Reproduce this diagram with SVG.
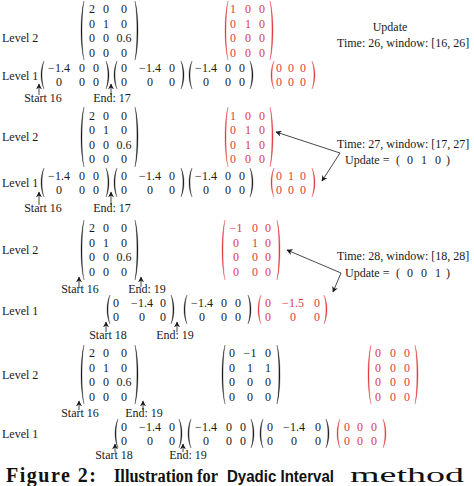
<svg xmlns="http://www.w3.org/2000/svg" width="474" height="486" viewBox="0 0 474 486">
<style>
.t{font-family:"Liberation Serif",serif;font-size:12px;fill:#1a1a1a}
.m{text-anchor:middle}
.r{fill:#e0393e}
.pk{fill:#1a1a1a;stroke:#1a1a1a;stroke-width:.3}
.pr{fill:#e0393e;stroke:#e0393e;stroke-width:.3}
.ar{stroke:#1a1a1a;stroke-width:.8;fill:none;marker-end:url(#ah)}
.cap{font-family:"Liberation Serif",serif;font-size:20px;font-weight:bold;fill:#111}
.caps{font-family:"Liberation Sans",sans-serif;font-weight:bold;font-size:17px}
</style>
<defs>
<marker id="ah" viewBox="0 0 10 10" refX="9" refY="5" markerWidth="6" markerHeight="6" markerUnits="userSpaceOnUse" orient="auto"><path d="M0,0 L10,5 L0,10 L3,5 z" fill="#1a1a1a"/></marker>
</defs>
<rect width="474" height="486" fill="#fff"/>

<!-- Section 1 -->
<g id="s1-labels" class="t">
<text x="2" y="42">Level 2</text>
<text x="2" y="80">Level 1</text>
<text class="m" x="43" y="102">Start 16</text>
<text class="m" x="112" y="102">End: 17</text>
<text class="m" x="390" y="31">Update</text>
<text x="337" y="47">Time: 26, window: [16, 26]</text>
</g>
<g id="s1-l2-black">
<path class="pk" d="M84,1 C80,15 80,46 84,60 C81.4,46 81.4,15 84,1Z"/>
<path class="pk" d="M135,1 C139,15 139,46 135,60 C137.6,46 137.6,15 135,1Z"/>
<g class="t m">
<text y="13"><tspan x="92">2</tspan><tspan x="106">0</tspan><tspan x="124">0</tspan></text>
<text y="27.5"><tspan x="92">0</tspan><tspan x="106">1</tspan><tspan x="124">0</tspan></text>
<text y="42"><tspan x="92">0</tspan><tspan x="106">0</tspan><tspan x="124">0.6</tspan></text>
<text y="56.5"><tspan x="92">0</tspan><tspan x="106">0</tspan><tspan x="124">0</tspan></text>
</g>
</g>
<g id="s1-l2-red">
<path class="pr" d="M228,1 C224,15 224,46 228,60 C225.4,46 225.4,15 228,1Z"/>
<path class="pr" d="M270,1 C274,15 274,46 270,60 C272.6,46 272.6,15 270,1Z"/>
<g class="t m r">
<text y="13"><tspan x="233">1</tspan><tspan x="248">0</tspan><tspan x="262">0</tspan></text>
<text y="27.5"><tspan x="233">0</tspan><tspan x="248">1</tspan><tspan x="262">0</tspan></text>
<text y="42"><tspan x="233">0</tspan><tspan x="248">0</tspan><tspan x="262">0</tspan></text>
<text y="56.5"><tspan x="233">0</tspan><tspan x="248">0</tspan><tspan x="262">0</tspan></text>
</g>
</g>
<g id="s1-l1-m1">
<path class="pk" d="M44,61 C40,69 40,81 44,89 C41.4,81 41.4,69 44,61Z"/>
<path class="pk" d="M106,61 C110,69 110,81 106,89 C108.6,81 108.6,69 106,61Z"/>
<g class="t m">
<text y="72"><tspan x="59">−1.4</tspan><tspan x="82">0</tspan><tspan x="96">0</tspan></text>
<text y="86"><tspan x="59">0</tspan><tspan x="82">0</tspan><tspan x="96">0</tspan></text>
</g>
</g>
<g id="s1-l1-m2">
<path class="pk" d="M117,61 C113,69 113,81 117,89 C114.4,81 114.4,69 117,61Z"/>
<path class="pk" d="M181,61 C185,69 185,81 181,89 C183.6,81 183.6,69 181,61Z"/>
<g class="t m">
<text y="72"><tspan x="124">0</tspan><tspan x="150">−1.4</tspan><tspan x="172">0</tspan></text>
<text y="86"><tspan x="124">0</tspan><tspan x="150">0</tspan><tspan x="172">0</tspan></text>
</g>
</g>
<g id="s1-l1-m3">
<path class="pk" d="M192,61 C188,69 188,81 192,89 C189.4,81 189.4,69 192,61Z"/>
<path class="pk" d="M250,61 C254,69 254,81 250,89 C252.6,81 252.6,69 250,61Z"/>
<g class="t m">
<text y="72"><tspan x="206">−1.4</tspan><tspan x="228">0</tspan><tspan x="242">0</tspan></text>
<text y="86"><tspan x="206">0</tspan><tspan x="228">0</tspan><tspan x="242">0</tspan></text>
</g>
</g>
<g id="s1-l1-red">
<path class="pr" d="M274,61 C270,69 270,81 274,89 C271.4,81 271.4,69 274,61Z"/>
<path class="pr" d="M312,61 C316,69 316,81 312,89 C314.6,81 314.6,69 312,61Z"/>
<g class="t m r">
<text y="72"><tspan x="279">0</tspan><tspan x="291">0</tspan><tspan x="303">0</tspan></text>
<text y="86"><tspan x="279">0</tspan><tspan x="291">0</tspan><tspan x="303">0</tspan></text>
</g>
</g>

<!-- Section 2 -->
<g id="s2-labels" class="t">
<text x="2" y="141">Level 2</text>
<text x="2" y="187">Level 1</text>
<text class="m" x="43" y="212">Start 16</text>
<text class="m" x="112" y="212">End: 17</text>
<text x="337" y="148">Time: 27, window: [17, 27]</text>
<text y="164"><tspan x="345">Update =</tspan><tspan x="396">(</tspan><tspan x="407">0</tspan><tspan x="421">1</tspan><tspan x="435">0</tspan><tspan x="446">)</tspan></text>
</g>
<g id="s2-l2-black">
<path class="pk" d="M84,107 C80,121 80,153 84,167 C81.4,153 81.4,121 84,107Z"/>
<path class="pk" d="M135,107 C139,121 139,153 135,167 C137.6,153 137.6,121 135,107Z"/>
<g class="t m">
<text y="119.5"><tspan x="92">2</tspan><tspan x="106">0</tspan><tspan x="124">0</tspan></text>
<text y="134"><tspan x="92">0</tspan><tspan x="106">1</tspan><tspan x="124">0</tspan></text>
<text y="148.5"><tspan x="92">0</tspan><tspan x="106">0</tspan><tspan x="124">0.6</tspan></text>
<text y="163"><tspan x="92">0</tspan><tspan x="106">0</tspan><tspan x="124">0</tspan></text>
</g>
</g>
<g id="s2-l2-red">
<path class="pr" d="M228,107 C224,121 224,153 228,167 C225.4,153 225.4,121 228,107Z"/>
<path class="pr" d="M270,107 C274,121 274,153 270,167 C272.6,153 272.6,121 270,107Z"/>
<g class="t m r">
<text y="119.5"><tspan x="233">1</tspan><tspan x="248">0</tspan><tspan x="262">0</tspan></text>
<text y="134"><tspan x="233">0</tspan><tspan x="248">1</tspan><tspan x="262">0</tspan></text>
<text y="148.5"><tspan x="233">0</tspan><tspan x="248">1</tspan><tspan x="262">0</tspan></text>
<text y="163"><tspan x="233">0</tspan><tspan x="248">0</tspan><tspan x="262">0</tspan></text>
</g>
</g>
<g id="s2-l1-m1">
<path class="pk" d="M44,168 C40,176 40,189 44,197 C41.4,189 41.4,176 44,168Z"/>
<path class="pk" d="M106,168 C110,176 110,189 106,197 C108.6,189 108.6,176 106,168Z"/>
<g class="t m">
<text y="180"><tspan x="59">−1.4</tspan><tspan x="82">0</tspan><tspan x="96">0</tspan></text>
<text y="193.5"><tspan x="59">0</tspan><tspan x="82">0</tspan><tspan x="96">0</tspan></text>
</g>
</g>
<g id="s2-l1-m2">
<path class="pk" d="M117,168 C113,176 113,189 117,197 C114.4,189 114.4,176 117,168Z"/>
<path class="pk" d="M181,168 C185,176 185,189 181,197 C183.6,189 183.6,176 181,168Z"/>
<g class="t m">
<text y="180"><tspan x="124">0</tspan><tspan x="150">−1.4</tspan><tspan x="172">0</tspan></text>
<text y="193.5"><tspan x="124">0</tspan><tspan x="150">0</tspan><tspan x="172">0</tspan></text>
</g>
</g>
<g id="s2-l1-m3">
<path class="pk" d="M192,168 C188,176 188,189 192,197 C189.4,189 189.4,176 192,168Z"/>
<path class="pk" d="M250,168 C254,176 254,189 250,197 C252.6,189 252.6,176 250,168Z"/>
<g class="t m">
<text y="180"><tspan x="206">−1.4</tspan><tspan x="228">0</tspan><tspan x="242">0</tspan></text>
<text y="193.5"><tspan x="206">0</tspan><tspan x="228">0</tspan><tspan x="242">0</tspan></text>
</g>
</g>
<g id="s2-l1-red">
<path class="pr" d="M274,168 C270,176 270,189 274,197 C271.4,189 271.4,176 274,168Z"/>
<path class="pr" d="M312,168 C316,176 316,189 312,197 C314.6,189 314.6,176 312,168Z"/>
<g class="t m r">
<text y="180"><tspan x="279">0</tspan><tspan x="291">1</tspan><tspan x="303">0</tspan></text>
<text y="193.5"><tspan x="279">0</tspan><tspan x="291">0</tspan><tspan x="303">0</tspan></text>
</g>
</g>

<!-- Section 3 -->
<g id="s3-labels" class="t">
<text x="2" y="254">Level 2</text>
<text x="2" y="315">Level 1</text>
<text class="m" x="80" y="293">Start 16</text>
<text class="m" x="147" y="293">End: 19</text>
<text class="m" x="108" y="339">Start 18</text>
<text class="m" x="175" y="339">End: 19</text>
<text x="337" y="260">Time: 28, window: [18, 28]</text>
<text y="277"><tspan x="345">Update =</tspan><tspan x="396">(</tspan><tspan x="407">0</tspan><tspan x="421">0</tspan><tspan x="435">1</tspan><tspan x="446">)</tspan></text>
</g>
<g id="s3-l2-black">
<path class="pk" d="M84,220 C80,234 80,266 84,280 C81.4,266 81.4,234 84,220Z"/>
<path class="pk" d="M135,220 C139,234 139,266 135,280 C137.6,266 137.6,234 135,220Z"/>
<g class="t m">
<text y="232"><tspan x="92">2</tspan><tspan x="106">0</tspan><tspan x="124">0</tspan></text>
<text y="246.5"><tspan x="92">0</tspan><tspan x="106">1</tspan><tspan x="124">0</tspan></text>
<text y="261"><tspan x="92">0</tspan><tspan x="106">0</tspan><tspan x="124">0.6</tspan></text>
<text y="275.5"><tspan x="92">0</tspan><tspan x="106">0</tspan><tspan x="124">0</tspan></text>
</g>
</g>
<g id="s3-l2-red">
<path class="pr" d="M225,220 C221,234 221,266 225,280 C222.4,266 222.4,234 225,220Z"/>
<path class="pr" d="M277,220 C281,234 281,266 277,280 C279.6,266 279.6,234 277,220Z"/>
<g class="t m r">
<text y="232"><tspan x="236">−1</tspan><tspan x="255">0</tspan><tspan x="268">0</tspan></text>
<text y="246.5"><tspan x="236">0</tspan><tspan x="255">1</tspan><tspan x="268">0</tspan></text>
<text y="261"><tspan x="236">0</tspan><tspan x="255">0</tspan><tspan x="268">0</tspan></text>
<text y="275.5"><tspan x="236">0</tspan><tspan x="255">0</tspan><tspan x="268">0</tspan></text>
</g>
</g>
<g id="s3-l1-m1">
<path class="pk" d="M110,295 C106,303 106,316 110,324 C107.4,316 107.4,303 110,295Z"/>
<path class="pk" d="M171,295 C175,303 175,316 171,324 C173.6,316 173.6,303 171,295Z"/>
<g class="t m">
<text y="307"><tspan x="116">0</tspan><tspan x="142">−1.4</tspan><tspan x="163">0</tspan></text>
<text y="321"><tspan x="116">0</tspan><tspan x="142">0</tspan><tspan x="163">0</tspan></text>
</g>
</g>
<g id="s3-l1-m2">
<path class="pk" d="M187,295 C183,303 183,316 187,324 C184.4,316 184.4,303 187,295Z"/>
<path class="pk" d="M248,295 C252,303 252,316 248,324 C250.6,316 250.6,303 248,295Z"/>
<g class="t m">
<text y="307"><tspan x="202">−1.4</tspan><tspan x="224">0</tspan><tspan x="238">0</tspan></text>
<text y="321"><tspan x="202">0</tspan><tspan x="224">0</tspan><tspan x="238">0</tspan></text>
</g>
</g>
<g id="s3-l1-red">
<path class="pr" d="M261,295 C257,303 257,316 261,324 C258.4,316 258.4,303 261,295Z"/>
<path class="pr" d="M324,295 C328,303 328,316 324,324 C326.6,316 326.6,303 324,295Z"/>
<g class="t m r">
<text y="307"><tspan x="268">0</tspan><tspan x="293">−1.5</tspan><tspan x="317">0</tspan></text>
<text y="321"><tspan x="268">0</tspan><tspan x="293">0</tspan><tspan x="317">0</tspan></text>
</g>
</g>

<!-- Section 4 -->
<g id="s4-labels" class="t">
<text x="2" y="379">Level 2</text>
<text x="2" y="438">Level 1</text>
<text class="m" x="80" y="417">Start 16</text>
<text class="m" x="144" y="417">End: 19</text>
<text class="m" x="114" y="459">Start 18</text>
<text class="m" x="188" y="459">End: 19</text>
</g>
<g id="s4-l2-black">
<path class="pk" d="M84,345 C80,359 80,390 84,404 C81.4,390 81.4,359 84,345Z"/>
<path class="pk" d="M135,345 C139,359 139,390 135,404 C137.6,390 137.6,359 135,345Z"/>
<g class="t m">
<text y="357"><tspan x="92">2</tspan><tspan x="106">0</tspan><tspan x="124">0</tspan></text>
<text y="371.5"><tspan x="92">0</tspan><tspan x="106">1</tspan><tspan x="124">0</tspan></text>
<text y="386"><tspan x="92">0</tspan><tspan x="106">0</tspan><tspan x="124">0.6</tspan></text>
<text y="400.5"><tspan x="92">0</tspan><tspan x="106">0</tspan><tspan x="124">0</tspan></text>
</g>
</g>
<g id="s4-l2-mid">
<path class="pk" d="M225,345 C221,359 221,390 225,404 C222.4,390 222.4,359 225,345Z"/>
<path class="pk" d="M277,345 C281,359 281,390 277,404 C279.6,390 279.6,359 277,345Z"/>
<g class="t m">
<text y="357"><tspan x="232">0</tspan><tspan x="250">−1</tspan><tspan x="268">0</tspan></text>
<text y="371.5"><tspan x="232">0</tspan><tspan x="250">1</tspan><tspan x="268">1</tspan></text>
<text y="386"><tspan x="232">0</tspan><tspan x="250">0</tspan><tspan x="268">0</tspan></text>
<text y="400.5"><tspan x="232">0</tspan><tspan x="250">0</tspan><tspan x="268">0</tspan></text>
</g>
</g>
<g id="s4-l2-red">
<path class="pr" d="M371,345 C367,359 367,390 371,404 C368.4,390 368.4,359 371,345Z"/>
<path class="pr" d="M415,345 C419,359 419,390 415,404 C417.6,390 417.6,359 415,345Z"/>
<g class="t m r">
<text y="357"><tspan x="378">0</tspan><tspan x="393">0</tspan><tspan x="407">0</tspan></text>
<text y="371.5"><tspan x="378">0</tspan><tspan x="393">0</tspan><tspan x="407">0</tspan></text>
<text y="386"><tspan x="378">0</tspan><tspan x="393">0</tspan><tspan x="407">0</tspan></text>
<text y="400.5"><tspan x="378">0</tspan><tspan x="393">0</tspan><tspan x="407">0</tspan></text>
</g>
</g>
<g id="s4-l1-m1">
<path class="pk" d="M118,419 C114,427 114,440 118,448 C115.4,440 115.4,427 118,419Z"/>
<path class="pk" d="M179,419 C183,427 183,440 179,448 C181.6,440 181.6,427 179,419Z"/>
<g class="t m">
<text y="431"><tspan x="124">0</tspan><tspan x="150">−1.4</tspan><tspan x="172">0</tspan></text>
<text y="445"><tspan x="124">0</tspan><tspan x="150">0</tspan><tspan x="172">0</tspan></text>
</g>
</g>
<g id="s4-l1-m2">
<path class="pk" d="M191,419 C187,427 187,440 191,448 C188.4,440 188.4,427 191,419Z"/>
<path class="pk" d="M251,419 C255,427 255,440 251,448 C253.6,440 253.6,427 251,419Z"/>
<g class="t m">
<text y="431"><tspan x="206">−1.4</tspan><tspan x="229">0</tspan><tspan x="243">0</tspan></text>
<text y="445"><tspan x="206">0</tspan><tspan x="229">0</tspan><tspan x="243">0</tspan></text>
</g>
</g>
<g id="s4-l1-m3">
<path class="pk" d="M263,419 C259,427 259,440 263,448 C260.4,440 260.4,427 263,419Z"/>
<path class="pk" d="M326,419 C330,427 330,440 326,448 C328.6,440 328.6,427 326,419Z"/>
<g class="t m">
<text y="431"><tspan x="270">0</tspan><tspan x="294">−1.4</tspan><tspan x="318">0</tspan></text>
<text y="445"><tspan x="270">0</tspan><tspan x="294">0</tspan><tspan x="318">0</tspan></text>
</g>
</g>
<g id="s4-l1-red">
<path class="pr" d="M340,419 C336,427 336,440 340,448 C337.4,440 337.4,427 340,419Z"/>
<path class="pr" d="M383,419 C387,427 387,440 383,448 C385.6,440 385.6,427 383,419Z"/>
<g class="t m r">
<text y="431"><tspan x="347">0</tspan><tspan x="360">0</tspan><tspan x="374">0</tspan></text>
<text y="445"><tspan x="347">0</tspan><tspan x="360">0</tspan><tspan x="374">0</tspan></text>
</g>
</g>

<g id="connectors">
<line class="ar" x1="39" y1="95" x2="39" y2="84"/>
<line class="ar" x1="111" y1="95" x2="111" y2="84"/>
<line class="ar" x1="39" y1="205" x2="39" y2="192"/>
<line class="ar" x1="111" y1="205" x2="111" y2="192"/>
<line class="ar" x1="79" y1="287" x2="79" y2="277"/>
<line class="ar" x1="141" y1="287" x2="141" y2="277"/>
<line class="ar" x1="106" y1="332" x2="106" y2="322"/>
<line class="ar" x1="177" y1="332" x2="177" y2="322"/>
<line class="ar" x1="79" y1="410" x2="79" y2="401"/>
<line class="ar" x1="143" y1="410" x2="143" y2="401"/>
<line class="ar" x1="115" y1="452" x2="115" y2="444"/>
<line class="ar" x1="183" y1="452" x2="183" y2="444"/>
<line class="ar" x1="340" y1="153" x2="276" y2="132"/>
<line class="ar" x1="340" y1="153" x2="322" y2="181"/>
<line class="ar" x1="341" y1="273" x2="287" y2="250"/>
<line class="ar" x1="341" y1="273" x2="333" y2="292"/>
</g>

<g id="caption">
<text class="cap" y="482"><tspan x="6" textLength="90" lengthAdjust="spacing">Figure 2:</tspan><tspan x="114" font-size="18" textLength="104" lengthAdjust="spacingAndGlyphs">Illustration for</tspan><tspan class="caps" x="227" textLength="107" lengthAdjust="spacingAndGlyphs">Dyadic Interval</tspan><tspan x="350" font-size="22" font-weight="normal" textLength="114" lengthAdjust="spacingAndGlyphs">method</tspan></text>
</g>
</svg>
